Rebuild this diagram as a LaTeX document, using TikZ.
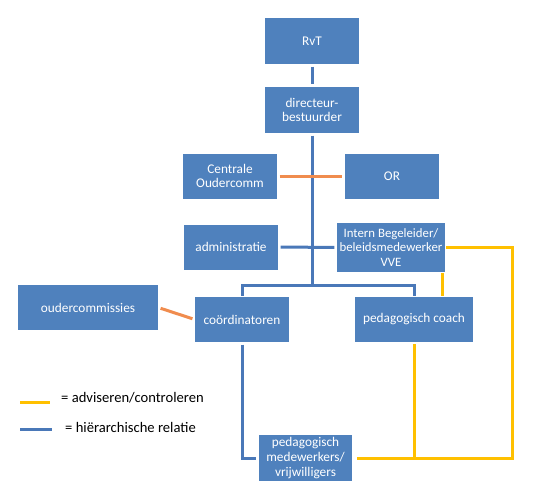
\documentclass[tikz,border=0pt]{standalone}
\usepackage{fontspec}
\setmainfont{Carlito}
\usetikzlibrary{positioning,calc}
\definecolor{boxblue}{HTML}{4F81BD}
\definecolor{lineblue}{HTML}{4A78B8}
\definecolor{advorange}{HTML}{F08C4E}
\definecolor{advyellow}{HTML}{FFC000}

\begin{document}
\begin{tikzpicture}[x=1pt,y=-1pt,
    orgbox/.style={rectangle,fill=boxblue,text=white,align=center,inner sep=1pt,
        minimum width=94pt,minimum height=46pt,
        font=\fontsize{13.3}{14.7}\selectfont},
    hier/.style={draw=lineblue,line width=3pt,shorten <=2.5pt,shorten >=2.5pt},
    advies/.style={draw=advyellow,line width=3pt},
    ouder/.style={draw=advorange,line width=3pt,shorten <=2.5pt,shorten >=2.5pt},
    legend/.style={anchor=west,inner sep=0pt,font=\fontsize{14.6}{17}\selectfont}]
    \useasboundingbox (0,0) rectangle (534,499);
    % boxes
    \node[orgbox] (rvt) at (312,41) {RvT};
    \node[orgbox] (dir) at (312,110) {directeur-\\bestuurder};
    \node[orgbox,minimum height=45pt] (cocomm) at (230,176) {Centrale\\Oudercomm};
    \node[orgbox,minimum height=45pt] (or) at (392,176) {OR};
    \node[orgbox,minimum height=45pt] (admin) at (231,247) {administratie};
    \node[orgbox,minimum width=108pt,minimum height=49pt,font=\fontsize{12.8}{14.2}\selectfont] (ib) at (391,247.5)
        {Intern Begeleider/\\beleidsmedewerker\\VVE};
    \node[orgbox,minimum width=140pt,minimum height=45pt] (oudc) at (88,307.5) {oudercommissies};
    \node[orgbox,minimum height=45pt] (coord) at (242,319.5) {coördinatoren};
    \node[orgbox,minimum width=118pt,minimum height=45pt] (coach) at (414,319.5) {pedagogisch coach};
    \node[orgbox,minimum width=93pt] (pmw) at (305.5,458) {pedagogisch\\medewerkers/\\vrijwilligers};
    \coordinate (split) at (312,285);
    \coordinate (ne) at (512,247.5);
    % hierarchy
    \path[hier] (rvt) -- (dir);
    \path[draw=lineblue,line width=3pt,shorten <=2.5pt] (dir.south) -- (split);
    \path[draw=lineblue,line width=3pt,shorten >=1pt] (split) -| (coord.north);
    \path[draw=lineblue,line width=3pt,shorten >=1pt] (split) -| (coach.north);
    \path[hier] (admin) -- (ib);
    \path[hier] (coord.south) |- (pmw.west);
    % advice
    \path[ouder] (cocomm) -- (or);
    \path[ouder] (oudc.east) -- (coord.west);
    \path[advies,shorten <=1pt] (ib.east) -- (ne) |- ([xshift=5pt]pmw.east);
    \path[advies,shorten <=1pt,shorten >=1pt] ([xshift=-3pt]ib.south east)
        -- ([xshift=-3pt]ib.south east |- coach.north);
    \path[advies,shorten <=2pt] (coach.south) -- (coach.south |- pmw.east);
    % legend
    \node[legend] (ladv) at (61,398) {= adviseren/controleren};
    \node[legend] (lhier) at (65,427) {= hiërarchische relatie};
    \coordinate (ly) at (20,402);
    \coordinate (lb) at (20,429);
    \path[advies] (ly) -- ([xshift=-11pt]ly -| ladv.west);
    \path[draw=lineblue,line width=3pt] (lb) -- ([xshift=-13pt]lb -| lhier.west);
\end{tikzpicture}
\end{document}
